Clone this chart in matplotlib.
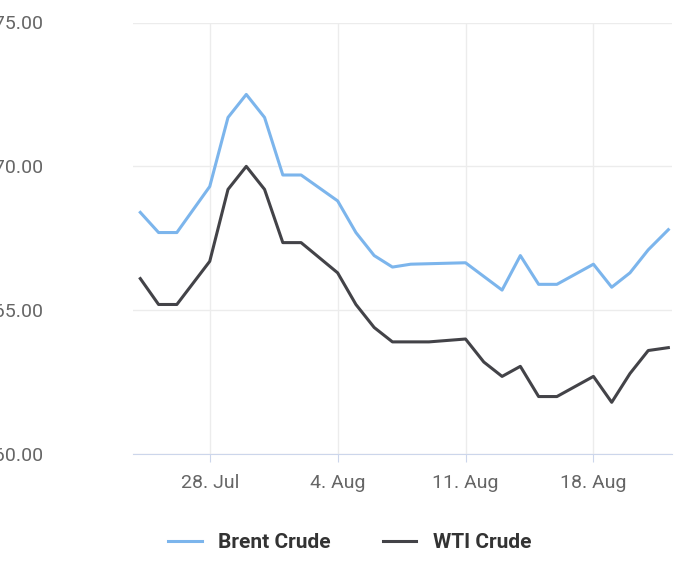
import matplotlib
matplotlib.use("Agg")
import matplotlib.pyplot as plt

plt.rcParams['font.family'] = ['Roboto', 'DejaVu Sans']

# day numbers counted from 1 July
brent_days = [24.2, 25.2, 26.2, 28, 29, 30, 31, 32, 33, 35, 36, 37, 38, 39, 42, 44, 45, 46, 47, 49, 50, 51, 52, 53.1]
brent = [68.4, 67.7, 67.7, 69.3, 71.7, 72.5, 71.7, 69.7, 69.7, 68.8, 67.7, 66.9, 66.5, 66.6, 66.65, 65.7, 66.9, 65.9, 65.9, 66.6, 65.8, 66.3, 67.1, 67.8]
wti_days = [24.2, 25.2, 26.2, 28, 29, 30, 31, 32, 33, 35, 36, 37, 38, 40, 42, 43, 44, 45, 46, 47, 49, 50, 51, 52, 53.1]
wti = [66.1, 65.2, 65.2, 66.7, 69.2, 70.0, 69.2, 67.35, 67.35, 66.3, 65.2, 64.4, 63.9, 63.9, 64.0, 63.2, 62.7, 63.05, 62.0, 62.0, 62.7, 61.8, 62.8, 63.6, 63.7]
tick_days = [28, 35, 42, 49]
tick_labels = ['28. Jul', '4. Aug', '11. Aug', '18. Aug']
y_ticks = [60, 65, 70, 75]

fig = plt.figure(figsize=(7, 5.77), dpi=100)
ax = fig.add_axes([0.19, 0.213, 0.77, 0.748])
ax.plot(brent_days, brent, color='#7cb5ec', lw=2.2, label='Brent Crude')
ax.plot(wti_days, wti, color='#434348', lw=2.2, label='WTI Crude')
ax.set_xlim(23.8, 53.3)
ax.set_ylim(60, 75)
ax.set_xticks(tick_days)
ax.set_xticklabels(tick_labels)
ax.set_yticks(y_ticks)
ax.set_yticklabels([f'${v:.2f}' for v in y_ticks])
ax.grid(True, color='#ececec', lw=1)
ax.set_axisbelow(True)
for s in ['top', 'right', 'left']:
    ax.spines[s].set_visible(False)
ax.spines['bottom'].set_color('#ccd6eb')
ax.tick_params(axis='y', length=0, labelsize=14, colors='#666666')
ax.tick_params(axis='x', length=6, color='#ccd6eb', labelsize=14, colors='#666666', pad=8)
for l in ax.get_yticklabels():
    l.set_horizontalalignment('left')
ax.tick_params(axis='y', pad=108)
leg = fig.legend(loc='lower center', bbox_to_anchor=(0.5, 0.01), ncol=2, frameon=False,
                 prop={'size': 15, 'weight': 'bold'}, handlelength=1.6, columnspacing=2.5)
for t in leg.get_texts():
    t.set_color('#333333')
fig.savefig('out.png', dpi=100)
